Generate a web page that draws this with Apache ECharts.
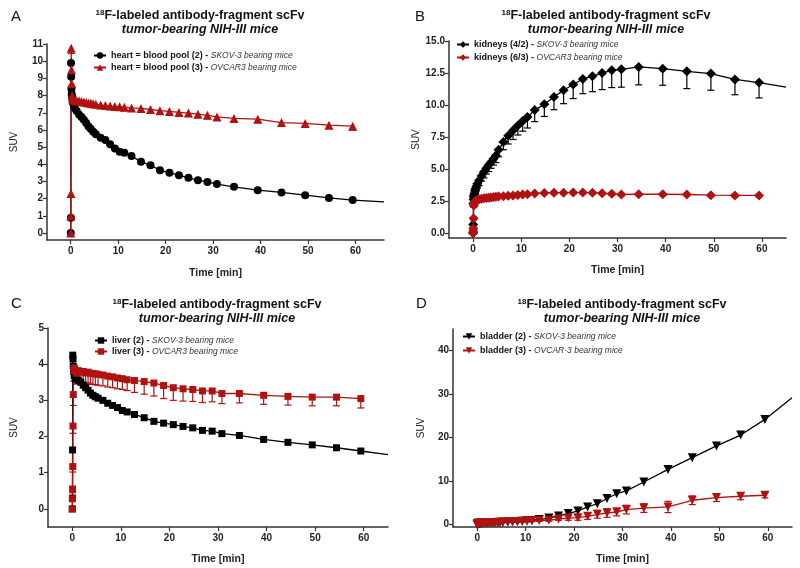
<!DOCTYPE html>
<html lang="en">
<head>
    <meta charset="UTF-8">
    <script src="https://cdn.jsdelivr.net/npm/echarts@6.0.0/dist/echarts.min.js"></script>
    <title>18F scFv time-activity curves</title>
    <style>
        *{ margin: 0; padding: 0; }
        #chart{ width: 800px; height: 568px; background: #fff; }
    </style>
</head>
<body>
<div id="chart"></div>
<script>
    // frame mid times [min], shared by all organs
    var time = [0, 0.03, 0.06, 0.1, 0.15, 0.2, 0.3, 0.4, 0.5, 0.7, 0.9,
        1.25, 1.75, 2.25, 2.75, 3.25, 3.75, 4.25, 4.75,
        5.3, 6.3, 7.3, 8.3, 9.3, 10.3, 11.3,
        12.8, 14.8, 16.8, 18.8, 20.8, 22.8, 24.8, 26.8, 28.8, 30.8,
        34.4, 39.4, 44.4, 49.4, 54.4, 59.4];

    // A - heart / blood pool
    var heartSkov = [0, 0.9, 9.9, 9.1, 8.4, 8.1, 7.9, 7.7, 7.55, 7.4, 7.25,
        7.1, 6.9, 6.75, 6.6, 6.4, 6.2, 6.05, 5.9,
        5.75, 5.55, 5.42, 5.17, 4.92, 4.73, 4.67,
        4.48, 4.15, 3.95, 3.66, 3.51, 3.37, 3.22, 3.08, 2.98, 2.85,
        2.69, 2.5, 2.37, 2.21, 2.05, 1.92];
    var heartSkovTail = [66, 1.82];
    var heartOvcar = [0, 1.0, 2.3, 10.75, 9.5, 8.7, 8.0, 7.85, 7.8, 7.75, 7.72,
        7.7, 7.68, 7.65, 7.62, 7.6, 7.57, 7.55, 7.53,
        7.5, 7.45, 7.42, 7.39, 7.37, 7.35, 7.32,
        7.28, 7.25, 7.19, 7.12, 7.08, 7.02, 6.98, 6.92, 6.85, 6.76,
        6.67, 6.63, 6.43, 6.38, 6.28, 6.22];
    var heartOvcarErr = [0, 0, 0, 0.3, 0.3, 0.3, 0.25, 0.2, 0.2, 0.2, 0.2,
        0.2, 0.2, 0.2, 0.2, 0.2, 0.2, 0.2, 0.2,
        0.2, 0.2, 0.2, 0.2, 0.2, 0.2, 0.2,
        0.2, 0.2, 0.2, 0.2, 0.2, 0.2, 0.2, 0.2, 0.2, 0.2,
        0.2, 0.2, 0.2, 0.2, 0.2, 0.22];

    // B - kidneys
    var kidneySkov = [0, 0.65, 2.3, 2.6, 2.8, 2.95, 3.1, 3.3, 3.45, 3.65, 3.85,
        4.1, 4.45, 4.75, 5.05, 5.3, 5.55, 5.8, 6.05,
        6.5, 7.1, 7.6, 8.0, 8.4, 8.75, 9.05,
        9.6, 10.05, 10.63, 11.15, 11.6, 12.03, 12.24, 12.5, 12.71, 12.79,
        12.97, 12.84, 12.63, 12.45, 12.0, 11.75];
    var kidneySkovErr = [0, 0.1, 0.2, 0.2, 0.25, 0.25, 0.3, 0.3, 0.3, 0.35, 0.35,
        0.4, 0.4, 0.45, 0.45, 0.5, 0.5, 0.5, 0.55,
        0.55, 0.6, 0.65, 0.7, 0.75, 0.8, 0.85,
        0.9, 0.95, 1.0, 1.05, 1.1, 1.15, 1.2, 1.3, 1.35, 1.4,
        1.4, 1.3, 1.35, 1.3, 1.2, 1.2];
    var kidneySkovTail = [65, 11.4];
    var kidneyOvcar = [0, 0.15, 0.35, 1.15, 2.15, 2.3, 2.4, 2.45, 2.5, 2.55, 2.58,
        2.62, 2.66, 2.7, 2.73, 2.75, 2.77, 2.8, 2.82,
        2.84, 2.87, 2.9, 2.93, 2.96, 3.0, 3.02,
        3.08, 3.12, 3.14, 3.14, 3.15, 3.15, 3.14, 3.1, 3.05, 3.0,
        3.02, 3.02, 3.0, 2.95, 2.93, 2.93];
    var kidneyOvcarErr = [0, 0.05, 0.1, 0.15, 0.15, 0.1, 0.1, 0.1, 0.1, 0.1, 0.1,
        0.1, 0.1, 0.1, 0.1, 0.1, 0.1, 0.1, 0.1,
        0.1, 0.1, 0.1, 0.1, 0.1, 0.1, 0.1,
        0.1, 0.1, 0.1, 0.1, 0.1, 0.1, 0.1, 0.1, 0.1, 0.1,
        0.1, 0.1, 0.1, 0.1, 0.1, 0.1];

    // C - liver
    var liverSkov = [0, 0.3, 1.63, 4.25, 4.15, 3.95, 3.8, 3.72, 3.68, 3.62, 3.58,
        3.55, 3.5, 3.42, 3.35, 3.28, 3.2, 3.14, 3.1,
        3.06, 3.0, 2.92, 2.86, 2.8, 2.72, 2.68,
        2.61, 2.52, 2.42, 2.37, 2.33, 2.28, 2.24, 2.17, 2.15, 2.08,
        2.03, 1.92, 1.84, 1.77, 1.69, 1.6];
    var liverSkovTail = [65, 1.5];
    var liverOvcar = [0, 0.28, 0.55, 1.17, 2.29, 3.16, 3.83, 3.9, 3.85, 3.8, 3.75,
        3.82, 3.78, 3.8, 3.76, 3.78, 3.75, 3.74, 3.73,
        3.72, 3.7, 3.67, 3.65, 3.62, 3.6, 3.57,
        3.55, 3.52, 3.48, 3.41, 3.35, 3.32, 3.3, 3.26, 3.26, 3.19,
        3.19, 3.14, 3.11, 3.09, 3.09, 3.05];
    var liverOvcarErr = [0, 0.05, 0.1, 0.15, 0.2, 0.3, 0.3, 0.3, 0.3, 0.3, 0.3,
        0.3, 0.3, 0.3, 0.3, 0.3, 0.3, 0.3, 0.3,
        0.3, 0.3, 0.3, 0.3, 0.3, 0.3, 0.3,
        0.33, 0.35, 0.36, 0.36, 0.35, 0.34, 0.33, 0.32, 0.3, 0.28,
        0.26, 0.25, 0.24, 0.24, 0.24, 0.26];

    // D - bladder
    var bladderSkov = [0, 0.05, 0.1, 0.15, 0.2, 0.2, 0.22, 0.25, 0.25, 0.28, 0.3,
        0.3, 0.32, 0.35, 0.38, 0.4, 0.42, 0.45, 0.48,
        0.52, 0.58, 0.65, 0.72, 0.8, 0.88, 0.97,
        1.15, 1.5, 1.98, 2.53, 3.14, 4.06, 4.8, 6.0, 7.1, 7.75,
        9.8, 12.7, 15.4, 18.1, 20.6, 24.2];
    var bladderSkovTail = [65, 29.2];
    var bladderOvcar = [0, 0.05, 0.1, 0.2, 0.25, 0.3, 0.3, 0.32, 0.33, 0.35, 0.36,
        0.38, 0.4, 0.42, 0.45, 0.47, 0.5, 0.52, 0.55,
        0.58, 0.62, 0.67, 0.72, 0.77, 0.82, 0.88,
        0.95, 0.99, 1.29, 1.5, 1.6, 1.91, 2.37, 2.67, 2.9, 3.45,
        3.8, 4.06, 5.6, 6.22, 6.52, 6.75];
    var bladderOvcarErr = [0, 0, 0, 0, 0, 0, 0.05, 0.05, 0.05, 0.05, 0.05,
        0.05, 0.05, 0.08, 0.08, 0.1, 0.1, 0.1, 0.1,
        0.12, 0.12, 0.15, 0.15, 0.15, 0.18, 0.2,
        0.2, 0.2, 0.3, 0.5, 0.6, 0.7, 0.9, 1.0, 0.9, 1.0,
        1.0, 1.3, 1.0, 0.9, 0.8, 0.6];

    var xTicks = [0, 10, 20, 30, 40, 50, 60];
    var yTicksA = [0, 1, 2, 3, 4, 5, 6, 7, 8, 9, 10, 11];
    var yTicksB = [0, 2.5, 5, 7.5, 10, 12.5, 15];
    var yTicksC = [0, 1, 2, 3, 4, 5];
    var yTicksD = [0, 10, 20, 30, 40];

    var RED = '#b01212';
    var BLACK = '#000';
    var AXIS = '#333';
    var FONT = '"Liberation Sans", Arial, sans-serif';

    function pts(vals, tail) {
        var d = vals.map(function (v, i) { return [time[i], v]; });
        if (tail) d.push({ value: tail, symbol: 'none' });
        return d;
    }

    function errData(vals, errs, both) {
        return vals.map(function (v, i) {
            return [time[i], v, v - errs[i], both ? v + errs[i] : v];
        });
    }

    function errBar(params, api) {
        var x = api.value(0), v = api.value(1), lo = api.value(2), hi = api.value(3);
        if (hi - lo <= 0) return;
        var pLo = api.coord([x, lo]), pHi = api.coord([x, hi]);
        var st = { stroke: api.visual('color'), lineWidth: 1.2 };
        var kids = [{ type: 'line', shape: { x1: pLo[0], y1: pLo[1], x2: pHi[0], y2: pHi[1] }, style: st }];
        if (lo < v) kids.push({ type: 'line', shape: { x1: pLo[0] - 3.5, y1: pLo[1], x2: pLo[0] + 3.5, y2: pLo[1] }, style: st });
        if (hi > v) kids.push({ type: 'line', shape: { x1: pHi[0] - 3.5, y1: pHi[1], x2: pHi[0] + 3.5, y2: pHi[1] }, style: st });
        return { type: 'group', children: kids };
    }

    function lineSeries(name, gi, data, color, symbol, size, rotate) {
        return {
            name: name, type: 'line', xAxisIndex: gi, yAxisIndex: gi,
            data: data, symbol: symbol, symbolSize: size, symbolRotate: rotate || 0,
            showAllSymbol: true, z: 3,
            itemStyle: { color: color },
            lineStyle: { color: color, width: 1.3 }
        };
    }

    function errSeries(gi, data, color) {
        return {
            type: 'custom', xAxisIndex: gi, yAxisIndex: gi, z: 2,
            itemStyle: { color: color }, renderItem: errBar, data: data,
            encode: { x: 0, y: 1 }, silent: true
        };
    }

    var panels = [
        { letter: 'A', grid: { left: 47, top: 44, width: 337, height: 196 }, x: [-5, 66], y: [-0.4, 11], yTicks: yTicksA, dec: 0,
          title: [195, 4], letterPos: [6, 4], legend: [93, 51, 3], yGap: 28, xGap: 28 },
        { letter: 'B', grid: { left: 449, top: 41, width: 337, height: 197 }, x: [-5, 65], y: [-0.4, 15], yTicks: yTicksB, dec: 1,
          title: [601, 4], letterPos: [410, 4], legend: [456, 40, 4], yGap: 26, xGap: 27 },
        { letter: 'C', grid: { left: 48, top: 328, width: 340, height: 199 }, x: [-5, 65], y: [-0.5, 5], yTicks: yTicksC, dec: 0,
          title: [212, 293], letterPos: [6, 291], legend: [94, 336, 2], yGap: 29, xGap: 27 },
        { letter: 'D', grid: { left: 462, top: 329, width: 339, height: 198 }, x: [-5, 65], y: [-0.55, 45], yTicks: yTicksD, dec: 0,
          title: [617, 293], letterPos: [411, 291], legend: [462, 332, 5], yGap: 27, xGap: 27 }
    ];
    panels[3].grid.left = 453;

    var names = [
        ['heart = blood pool (2) - SKOV-3 bearing mice', 'heart = blood pool (3) - OVCAR3 bearing mice'],
        ['kidneys (4/2) - SKOV-3 bearing mice', 'kidneys (6/3) - OVCAR3 bearing mice'],
        ['liver (2) - SKOV-3 bearing mice', 'liver (3) - OVCAR3 bearing mice'],
        ['bladder (2) - SKOV-3 bearing mice', 'bladder (3) - OVCAR-3 bearing mice']
    ];

    var series = [
        lineSeries(names[0][0], 0, pts(heartSkov, heartSkovTail), BLACK, 'circle', 8),
        errSeries(0, errData(heartOvcar, heartOvcarErr, false), RED),
        lineSeries(names[0][1], 0, pts(heartOvcar), RED, 'triangle', 9),

        errSeries(1, errData(kidneySkov, kidneySkovErr, false), BLACK),
        lineSeries(names[1][0], 1, pts(kidneySkov, kidneySkovTail), BLACK, 'diamond', 10),
        errSeries(1, errData(kidneyOvcar, kidneyOvcarErr, false), RED),
        lineSeries(names[1][1], 1, pts(kidneyOvcar), RED, 'diamond', 10),

        lineSeries(names[2][0], 2, pts(liverSkov, liverSkovTail), BLACK, 'rect', 7),
        errSeries(2, errData(liverOvcar, liverOvcarErr, false), RED),
        lineSeries(names[2][1], 2, pts(liverOvcar), RED, 'rect', 7),

        lineSeries(names[3][0], 3, pts(bladderSkov, bladderSkovTail), BLACK, 'triangle', 9, 180),
        errSeries(3, errData(bladderOvcar, bladderOvcarErr, true), RED),
        lineSeries(names[3][1], 3, pts(bladderOvcar), RED, 'triangle', 9, 180)
    ];

    var option = {
        animation: false,
        backgroundColor: '#fff',
        textStyle: { fontFamily: FONT },
        title: [],
        legend: [],
        grid: [],
        xAxis: [],
        yAxis: [],
        series: series
    };

    panels.forEach(function (p, i) {
        option.grid.push(p.grid);
        option.title.push({
            text: '{s|18}{t|F-labeled antibody-fragment scFv}',
            subtext: 'tumor-bearing NIH-III mice',
            left: p.title[0], top: p.title[1], textAlign: 'center', itemGap: 1,
            textStyle: {
                fontFamily: FONT,
                rich: {
                    s: { fontSize: 8, fontWeight: 'bold', color: '#111', lineHeight: 14, verticalAlign: 'top', fontFamily: FONT },
                    t: { fontSize: 12.5, fontWeight: 'bold', color: '#111', lineHeight: 14, fontFamily: FONT }
                }
            },
            subtextStyle: { fontSize: 12.5, fontStyle: 'italic', fontWeight: 'bold', color: '#111', fontFamily: FONT }
        });
        option.title.push({
            text: p.letter, left: p.letterPos[0], top: p.letterPos[1],
            textStyle: { fontSize: 15, fontWeight: 'normal', color: '#111', fontFamily: FONT }
        });
        option.legend.push({
            left: p.legend[0], top: p.legend[1], itemGap: p.legend[2], orient: 'vertical', padding: 0,
            itemWidth: 12, itemHeight: 8, data: names[i], selectedMode: false,
            formatter: function (n) {
                var k = n.indexOf(' - ');
                return '{b|' + n.slice(0, k) + '}{b| - }{i|' + n.slice(k + 3) + '}';
            },
            textStyle: {
                fontFamily: FONT,
                rich: {
                    b: { fontWeight: 'bold', fontSize: 9, color: '#111', fontFamily: FONT },
                    i: { fontStyle: 'italic', fontSize: 8.5, color: '#333', fontFamily: FONT }
                }
            }
        });
        option.xAxis.push({
            type: 'value', gridIndex: i, min: p.x[0], max: p.x[1],
            axisLine: { show: true, onZero: false, lineStyle: { color: AXIS, width: 1.5 } },
            axisTick: { show: true, length: 4, customValues: xTicks, lineStyle: { color: AXIS, width: 1.2 } },
            axisLabel: { customValues: xTicks, fontWeight: 'bold', fontSize: 10, color: '#222', margin: 6, fontFamily: FONT },
            splitLine: { show: false },
            name: 'Time [min]', nameLocation: 'middle', nameGap: p.xGap,
            nameTextStyle: { fontWeight: 'bold', fontSize: 10.5, color: '#222', fontFamily: FONT }
        });
        option.yAxis.push({
            type: 'value', gridIndex: i, min: p.y[0], max: p.y[1],
            axisLine: { show: true, onZero: false, lineStyle: { color: AXIS, width: 1.5 } },
            axisTick: { show: true, length: 4, customValues: p.yTicks, lineStyle: { color: AXIS, width: 1.2 } },
            axisLabel: {
                customValues: p.yTicks, fontWeight: 'bold', fontSize: 10, color: '#222', margin: 4, fontFamily: FONT,
                formatter: (function (dec) { return function (v) { return v.toFixed(dec); }; })(p.dec)
            },
            splitLine: { show: false },
            name: 'SUV', nameLocation: 'middle', nameGap: p.yGap,
            nameTextStyle: { fontSize: 10, color: '#222', fontFamily: FONT }
        });
    });

    var chart = echarts.init(document.getElementById('chart'), null, { renderer: 'canvas' });
    chart.setOption(option);
</script>
</body>
</html>
